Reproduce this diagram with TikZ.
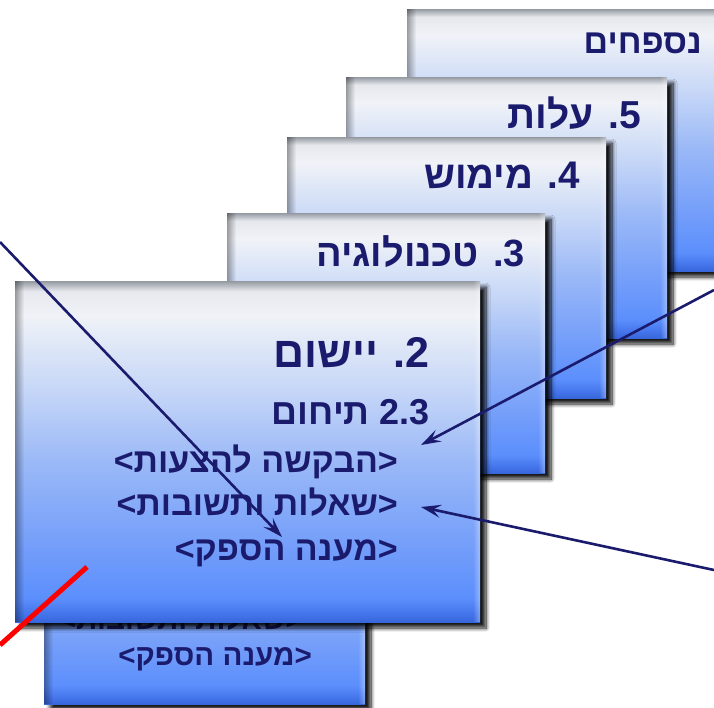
\documentclass[tikz,border=0pt]{standalone}
\usepackage{fontspec}
\newfontfamily\heb[Script=Hebrew]{Liberation Sans}
\newfontfamily\latn{Liberation Sans}
\TeXXeTstate=1
\usetikzlibrary{shadows.blur,fadings,arrows.meta}
\definecolor{navy}{RGB}{27,27,110}
\definecolor{redline}{RGB}{255,0,0}
\pgfdeclareverticalshading{cardshade}{100bp}{%
 rgb(0bp)=(0.22,0.40,0.86);
 rgb(25bp)=(0.22,0.40,0.86);
 rgb(26.5bp)=(0.28,0.47,0.93);
 rgb(28.5bp)=(0.36,0.56,0.99);
 rgb(35bp)=(0.44,0.61,0.98);
 rgb(48bp)=(0.60,0.72,0.97);
 rgb(60bp)=(0.79,0.85,0.97);
 rgb(70bp)=(0.94,0.95,0.97);
 rgb(73.5bp)=(0.90,0.91,0.93);
 rgb(75bp)=(0.58,0.60,0.63);
 rgb(100bp)=(0.58,0.60,0.63)}
\tikzfading[name=fadeL, left color=transparent!0, right color=transparent!100]
\tikzfading[name=fadeR, left color=transparent!100, right color=transparent!0]
\tikzset{
 cardshadow/.style={blur shadow={shadow xshift=6pt, shadow yshift=-6pt,
   shadow blur radius=4pt, shadow blur steps=10, shadow opacity=90}},
 cardtext/.style={anchor=base east, inner sep=0pt, text=navy, font=\heb\bfseries},
 conn/.style={navy, line width=2.6pt, -{Stealth[length=20pt, width=13pt, inset=8pt]}},
}
\newcommand\lt{{\latn\bfseries<}}
\newcommand\gt{{\latn\bfseries>}}
\newcommand\mycard[4]{%
 \fill[cardshadow, white] (#1,#2) rectangle (#3,#4);
 \shade[shading=cardshade] (#1,#2) rectangle (#3,#4);
 \fill[black, opacity=.35, path fading=fadeL] (#1,#2) rectangle ++(9,{#4-#2});
 \fill[white, opacity=.35, path fading=fadeR] (#3,#2) rectangle ++(-7,{#4-#2});
}
\begin{document}
\begin{tikzpicture}[x=1pt,y=-1pt]
\useasboundingbox (0,0) rectangle (714,707);
\clip (0,0) rectangle (714,707);
% back cards
\mycard{407}{9}{740}{271}
\node[cardtext, font=\heb\bfseries\fontsize{34}{34}\selectfont] (t6) at (702,53) {\beginR נספחים\endR};
\mycard{346}{77}{667}{338}
\node[cardtext, font=\heb\bfseries\fontsize{39}{39}\selectfont] (t5) at (641,128) {\beginR 5. עלות\endR};
\mycard{287}{137}{606}{398}
\node[cardtext, font=\heb\bfseries\fontsize{38.5}{38.5}\selectfont] (t4) at (580,188) {\beginR 4. מימוש\endR};
\mycard{227}{213}{545}{473}
\node[cardtext, font=\heb\bfseries\fontsize{38}{38}\selectfont] (t3) at (525,266) {\beginR 3. טכנולוגיה\endR};
% lower card
\mycard{44}{440}{365}{704}
\node[cardtext, font=\heb\bfseries\fontsize{29.5}{29.5}\selectfont] (b1) at (303,629) {\lt\beginR שאלות ותשובות\endR\gt};
\node[cardtext, font=\heb\bfseries\fontsize{29.5}{29.5}\selectfont] (b2) at (312,665) {\lt\beginR מענה הספק\endR\gt};
% front card
\mycard{15}{281}{480}{622}
\node[cardtext, font=\heb\bfseries\fontsize{43}{43}\selectfont] (t2) at (430,367) {\beginR 2. יישום\endR};
\node[cardtext, font=\heb\bfseries\fontsize{36}{36}\selectfont] (t23) at (430,424) {\beginR 2.3 תיחום\endR};
\node[cardtext, font=\heb\bfseries\fontsize{34}{34}\selectfont] (i1) at (398,472) {\lt\beginR הבקשה להצעות\endR\gt};
\node[cardtext, font=\heb\bfseries\fontsize{34}{34}\selectfont] (i2) at (398,515) {\lt\beginR שאלות ותשובות\endR\gt};
\node[cardtext, font=\heb\bfseries\fontsize{34}{34}\selectfont] (i3) at (398,560) {\lt\beginR מענה הספק\endR\gt};
% connectors
\coordinate (s1) at (0,242);
\coordinate (e1) at (282,537);
\coordinate (s2) at (714,290);
\coordinate (e2) at (421,445);
\coordinate (s3) at (714,570);
\coordinate (e3) at (421,507);
\coordinate (r1) at (87,567);
\coordinate (r2) at (0,645);
\draw[conn] (s1) -- (e1);
\draw[conn] (s2) -- (e2);
\draw[conn] (s3) -- (e3);
\draw[redline, line width=5pt] (r1) -- (r2);
\end{tikzpicture}
\end{document}
